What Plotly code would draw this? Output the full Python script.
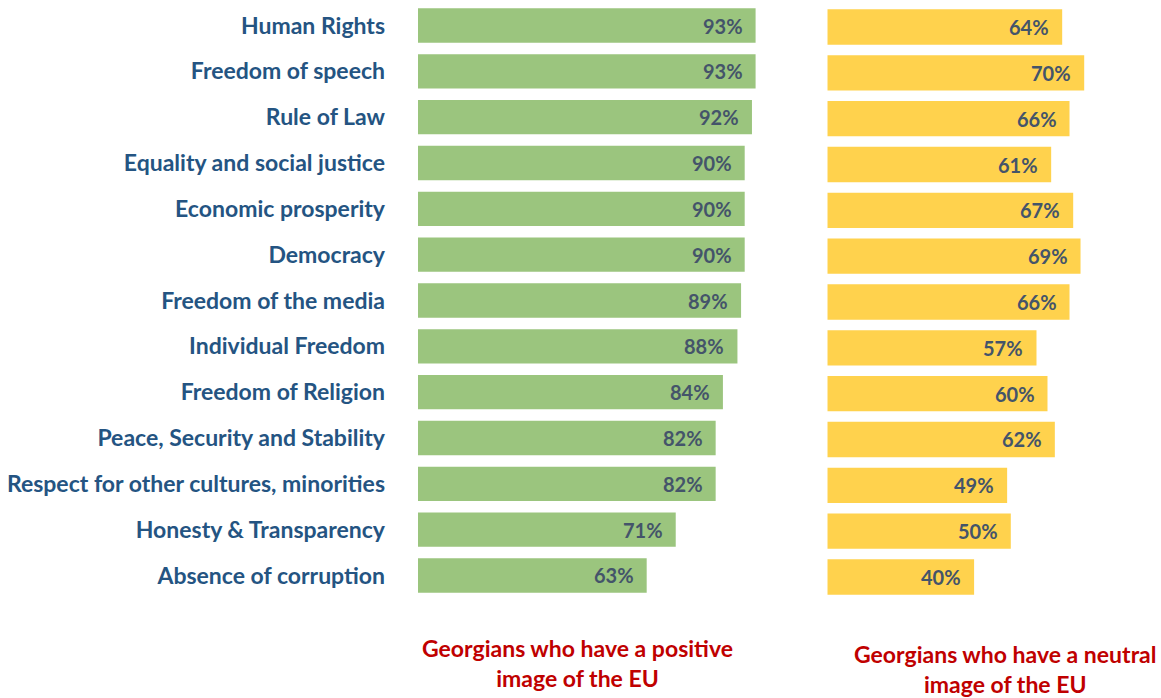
import plotly.graph_objects as go

# Survey items, top to bottom
categories = [
    "Human Rights", "Freedom of speech", "Rule of Law", "Equality and social justice",
    "Economic prosperity", "Democracy", "Freedom of the media", "Individual Freedom",
    "Freedom of Religion", "Peace, Security and Stability",
    "Respect for other cultures, minorities", "Honesty & Transparency",
    "Absence of corruption",
]
positive = [93, 93, 92, 90, 90, 90, 89, 88, 84, 82, 82, 71, 63]
neutral = [64, 70, 66, 61, 67, 69, 66, 57, 60, 62, 49, 50, 40]
panel_titles = [
    "Georgians who have a positive<br>image of the EU",
    "Georgians who have a neutral<br>image of the EU",
]

W, H = 1161, 698
FONT = "Lato"
LABEL_BLUE = "#245482"
VALUE_GREY = "#44546A"
TITLE_RED = "#C00000"
GREEN = "#9BC57E"
YELLOW = "#FFD24D"

fig = go.Figure()
fig.add_trace(go.Bar(x=positive, y=categories, orientation="h", marker_color=GREEN,
                     marker_line_width=0, width=0.75, xaxis="x", yaxis="y",
                     hoverinfo="skip"))
fig.add_trace(go.Bar(x=neutral, y=categories, orientation="h", marker_color=YELLOW,
                     marker_line_width=0, width=0.77, xaxis="x2", yaxis="y2",
                     hoverinfo="skip"))

annotations = []
for xa, ya, vals in (("x", "y", positive), ("x2", "y2", neutral)):
    for cat, v in zip(categories, vals):
        annotations.append(dict(x=v, y=cat, xref=xa, yref=ya, text=f"<b>{v}%</b>",
                                showarrow=False, xanchor="right", yanchor="middle",
                                xshift=-11, font=dict(family=FONT, size=20, color=VALUE_GREY)))

for text, cx, cy in ((panel_titles[0], 577, 662.5), (panel_titles[1], 1005, 668.5)):
    annotations.append(dict(x=cx / W, y=1 - cy / H, xref="paper", yref="paper",
                            text=f"<b>{text}</b>", showarrow=False, xanchor="center",
                            yanchor="middle", align="center",
                            font=dict(family=FONT, size=23, color=TITLE_RED)))

left_x0, left_scale = 418, 3.63
right_x0, right_scale = 827.3, 3.67
right_max = 90

fig.update_layout(
    width=W, height=H,
    margin=dict(l=0, r=0, t=0, b=0),
    paper_bgcolor="white", plot_bgcolor="white",
    showlegend=False,
    xaxis=dict(domain=[left_x0 / W, (left_x0 + 100 * left_scale) / W], range=[0, 100],
               visible=False, fixedrange=True),
    xaxis2=dict(domain=[right_x0 / W, (right_x0 + right_max * right_scale) / W],
                range=[0, right_max], visible=False, fixedrange=True),
    yaxis=dict(domain=[1 - 598.4 / H, 1 - 2.6 / H], range=[12.5, -0.5], type="category",
               showgrid=False, zeroline=False, showline=False, ticks="",
               ticklabelstandoff=32,
               tickfont=dict(family=FONT, size=23, color=LABEL_BLUE, weight="bold"),
               anchor="x"),
    yaxis2=dict(domain=[1 - 599.9 / H, 1 - 4.1 / H], range=[12.5, -0.5], type="category",
                showgrid=False, zeroline=False, showline=False, showticklabels=False,
                anchor="x2"),
    annotations=annotations,
)

fig.write_html("out.html")
